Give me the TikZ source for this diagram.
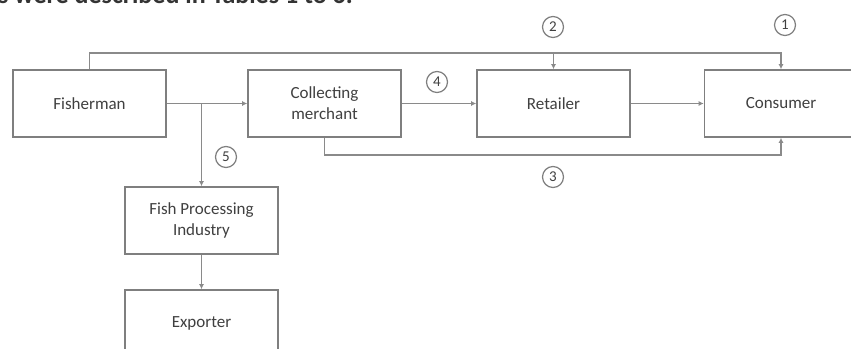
\documentclass[tikz,border=0pt]{standalone}
\usepackage{fontspec}
\setmainfont{Carlito}
\usetikzlibrary{arrows.meta}
\definecolor{boxgray}{HTML}{7F7F7F}
\definecolor{linegray}{HTML}{8A8A8A}
\definecolor{textgray}{HTML}{404040}
\begin{document}
\begin{tikzpicture}[x=1pt,y=-1pt,
 box/.style={draw=boxgray, line width=1.6pt, minimum width=153pt, minimum height=67pt, align=center, inner sep=0pt, font=\fontsize{17}{21}\selectfont, text=textgray},
 num/.style={draw=boxgray, circle, line width=1.2pt, minimum size=21pt, inner sep=0pt, font=\fontsize{15}{15}\selectfont, text=textgray},
 conn/.style={draw=linegray, line width=1.4pt, -{Latex[length=5pt,width=5pt]}},
]
\useasboundingbox (0,0) rectangle (851,348);
\clip (0,0) rectangle (851,348);
\fill[white] (0,0) rectangle (851,348);
\node[anchor=base west, inner sep=0pt, font=\fontsize{26}{26}\selectfont\bfseries, text=black!80] (cap) at (-2,4) {s were described in Tables 1 to 6.};

\node[box] (fish) at (89.5,103.5) {Fisherman};
\node[box] (coll) at (324.5,103.5) {Collecting\\merchant};
\node[box] (ret) at (553.5,103.5) {Retailer};
\node[box] (cons) at (781,103.5) {Consumer};
\node[box] (proc) at (201.5,220.5) {Fish Processing\\Industry};
\node[box] (exp) at (201.5,323.5) {Exporter};

\coordinate (top) at (0,53);
\coordinate (bot) at (0,155);

\draw[conn] (fish.east) -- (coll.west);
\draw[conn] (proc.north |- fish.east) -- (proc.north);
\draw[conn] (coll.east) -- (ret.west);
\draw[conn] (ret.east) -- (cons.west);
\draw[conn] (proc.south) -- (exp.north);
\draw[conn] (fish.north) -- (fish.north |- top) -| (cons.north);
\draw[conn] (ret.north |- top) -- (ret.north);
\draw[conn] (coll.south) -- (coll.south |- bot) -| (cons.south);

\node[num] (n1) at (785,25) {1};
\node[num] (n2) at (553,27) {2};
\node[num] (n3) at (553,177) {3};
\node[num] (n4) at (437,82) {4};
\node[num] (n5) at (226,157) {5};
\end{tikzpicture}
\end{document}
